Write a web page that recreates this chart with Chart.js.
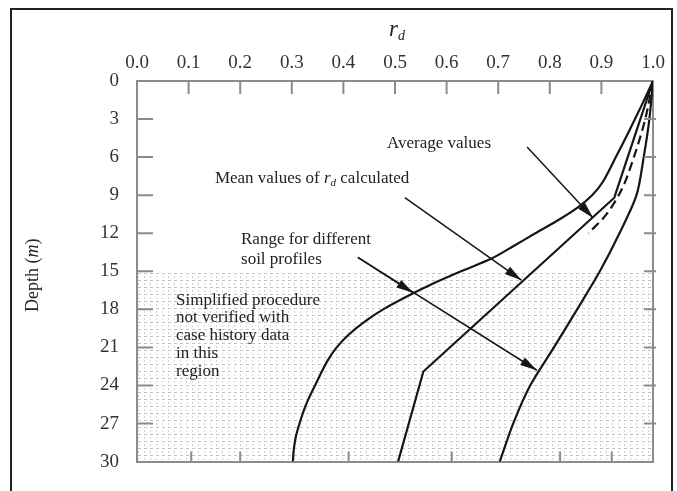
<!DOCTYPE html>
<html>
<head>
<meta charset="utf-8">
<script src="https://cdn.jsdelivr.net/npm/chart.js@4.4.0/dist/chart.umd.min.js"></script>
<style>
  html, body { margin: 0; padding: 0; background: #fff; }
</style>
</head>
<body>
<canvas id="myChart" width="677" height="491"></canvas>
<script>
// values: depth (m) down, r_d across
const rdTicks = [0, 0.1, 0.2, 0.3, 0.4, 0.5, 0.6, 0.7, 0.8, 0.9, 1.0];
const rdTickLabels = ['0.0', '0.1', '0.2', '0.3', '0.4', '0.5', '0.6', '0.7', '0.8', '0.9', '1.0'];
const depthTicks = [0, 3, 6, 9, 12, 15, 18, 21, 24, 27, 30];
const bottomTicks = [0.105, 0.2, 0.41, 0.61, 0.82, 0.92];

// range for different soil profiles, lower bound
const depthLower = [0, 2, 4, 6, 8, 9, 10, 11, 12, 13, 14, 15, 16, 17, 18, 19, 20, 21, 22, 23, 24, 25, 26, 27, 28, 29, 30];
const rdLower = [1.0, 0.977, 0.953, 0.928, 0.902, 0.882, 0.853, 0.815, 0.772, 0.73, 0.687, 0.628, 0.572, 0.522, 0.477, 0.44, 0.41, 0.387, 0.37, 0.357, 0.345, 0.333, 0.323, 0.315, 0.308, 0.304, 0.302];
// range for different soil profiles, upper bound
const depthUpper = [0, 3, 6, 9, 12, 15, 18, 21, 24, 27, 30];
const rdUpper = [1.0, 0.993, 0.982, 0.968, 0.935, 0.897, 0.853, 0.808, 0.762, 0.729, 0.703];
// mean values of r_d calculated
const depthMean = [0, 9.2, 22.9, 30];
const rdMean = [1.0, 0.925, 0.555, 0.506];
// average values (dashed)
const depthAvg = [0, 3, 6, 8.5, 10.5, 12];
const rdAvg = [1.0, 0.985, 0.963, 0.94, 0.91, 0.875];
// shaded region start depth
const shadeFrom = 15;

// arrows [x, depth] start -> end
const arrowAvg = [[0.756, 5.2], [0.884, 10.8]];
const arrowMean = [[0.519, 9.2], [0.745, 15.7]];
const arrowRangeA = [[0.428, 13.9], [0.535, 16.7]];
const arrowRangeC = [[0.428, 13.9], [0.775, 22.8]];

const pts = (xs, ys) => xs.map((v, i) => ({ x: v, y: ys[i] }));
const arrowPts = a => a.map(p => ({ x: p[0], y: p[1] }));

let ctx = document.getElementById('myChart').getContext('2d');

// stipple for the "not verified" region
const pc = document.createElement('canvas');
pc.width = 6; pc.height = 7;
const pctx = pc.getContext('2d');
pctx.fillStyle = 'rgba(120,120,120,0.45)';
pctx.fillRect(0, 0, 3, 1);
pctx.fillStyle = 'rgba(120,120,120,0.3)';
pctx.fillRect(0, 3, 1, 2);
const stipple = ctx.createPattern(pc, 'repeat');

const serif = "'Liberation Serif', 'DejaVu Serif', serif";
const ink = '#161616';
const axisGray = '#8c8c8c';

function curve(data, dash, tension) {
  return {
    data: data, borderColor: ink, borderWidth: 2.2, borderDash: dash || [],
    pointRadius: 0, tension: tension || 0, fill: false, showLine: true
  };
}
function arrow(a) {
  return {
    data: arrowPts(a), borderColor: ink, borderWidth: 1.5, pointRadius: 0,
    showLine: true, fill: false, arrow: true
  };
}

// inward tick marks on all four sides
const inTicks = {
  id: 'inTicks',
  afterDraw(chart) {
    const c = chart.ctx, a = chart.chartArea, s = chart.scales;
    c.save();
    c.strokeStyle = axisGray;
    c.lineWidth = 2;
    c.beginPath();
    rdTicks.slice(1, -1).forEach(v => {
      const px = s.x.getPixelForValue(v);
      c.moveTo(px, a.top); c.lineTo(px, a.top + 13);
    });
    bottomTicks.forEach(v => {
      const px = s.x2.getPixelForValue(v);
      c.moveTo(px, a.bottom); c.lineTo(px, a.bottom - 10);
    });
    depthTicks.slice(1, -1).forEach(v => {
      const py = s.y.getPixelForValue(v);
      c.moveTo(a.left, py); c.lineTo(a.left + 16, py);
      const py2 = s.y2.getPixelForValue(v);
      c.moveTo(a.right + 3, py2); c.lineTo(a.right - 9, py2);
    });
    c.stroke();
    c.restore();
  }
};

// arrowheads at the end of arrow datasets
const arrowHeads = {
  id: 'arrowHeads',
  afterDatasetsDraw(chart) {
    const c = chart.ctx;
    chart.data.datasets.forEach((ds, i) => {
      if (!ds.arrow) return;
      const el = chart.getDatasetMeta(i).data;
      const p0 = el[0], p1 = el[el.length - 1];
      const ang = Math.atan2(p1.y - p0.y, p1.x - p0.x);
      c.save();
      c.translate(p1.x, p1.y);
      c.rotate(ang);
      c.fillStyle = ink;
      c.beginPath();
      c.moveTo(0, 0);
      c.lineTo(-17, -4.5);
      c.lineTo(-17, 4.5);
      c.closePath();
      c.fill();
      c.restore();
    });
  }
};

// frame, titles and labels
const notes = [
  { text: 'Average values', x: 0.4845, y: 4.9 },
  { text: 'Range for different', x: 0.2016, y: 12.5 },
  { text: 'soil profiles', x: 0.2016, y: 14.1 },
  { text: 'Simplified procedure', x: 0.0756, y: 17.3 },
  { text: 'not verified with', x: 0.0756, y: 18.65 },
  { text: 'case history data', x: 0.0756, y: 20.1 },
  { text: 'in this', x: 0.0756, y: 21.5 },
  { text: 'region', x: 0.0756, y: 22.9 }
];
const textLayer = {
  id: 'textLayer',
  beforeDraw(chart) {
    const c = chart.ctx;
    c.save();
    c.strokeStyle = '#222';
    c.lineWidth = 2;
    c.strokeRect(11, 9, 661, 500);
    c.restore();
  },
  afterDraw(chart) {
    const c = chart.ctx, s = chart.scales, a = chart.chartArea;
    c.save();
    c.fillStyle = '#222';
    c.textBaseline = 'middle';
    c.font = '17px ' + serif;
    notes.forEach(n => {
      c.fillText(n.text, s.x.getPixelForValue(n.x), s.y.getPixelForValue(n.y));
    });
    // Mean values of r_d calculated
    let px = s.x.getPixelForValue(0.151), py = s.y.getPixelForValue(7.7);
    c.fillText('Mean values of ', px, py);
    px += c.measureText('Mean values of ').width;
    c.font = 'italic 17px ' + serif;
    c.fillText('r', px, py);
    px += c.measureText('r').width;
    c.font = 'italic 11px ' + serif;
    c.fillText('d', px, py + 4);
    px += c.measureText('d').width;
    c.font = '17px ' + serif;
    c.fillText(' calculated', px, py);

    // axis title r_d
    c.textBaseline = 'alphabetic';
    c.font = 'italic 23px ' + serif;
    const rw = c.measureText('r').width;
    px = s.x.getPixelForValue(0.5) - 6;
    c.fillText('r', px, 36);
    c.font = 'italic 14px ' + serif;
    c.fillText('d', px + rw, 40);

    // axis title Depth (m)
    c.translate(33, (a.top + a.bottom) / 2 + 4);
    c.rotate(-Math.PI / 2);
    c.textBaseline = 'middle';
    const parts = [['Depth (', ''], ['m', 'italic '], [')', '']];
    let tw = 0;
    parts.forEach(p => { c.font = p[1] + '18px ' + serif; tw += c.measureText(p[0]).width; });
    let tx = -tw / 2;
    parts.forEach(p => {
      c.font = p[1] + '18px ' + serif;
      c.fillText(p[0], tx, 0);
      tx += c.measureText(p[0]).width;
    });
    c.restore();
  }
};

const tickFont = { family: serif, size: 19 };

let myChart = new Chart(ctx, {
  type: 'scatter',
  data: {
    datasets: [
      curve(pts(rdLower, depthLower), [], 0.3),
      curve(pts(rdUpper, depthUpper), [], 0.3),
      curve(pts(rdMean, depthMean), [], 0),
      curve(pts(rdAvg, depthAvg), [9, 5], 0.3),
      arrow(arrowAvg),
      arrow(arrowMean),
      arrow(arrowRangeA),
      arrow(arrowRangeC),
      {
        data: [{ x: 0, y: shadeFrom }, { x: 1, y: shadeFrom }],
        showLine: true, borderWidth: 0, pointRadius: 0,
        fill: { value: 30 }, backgroundColor: stipple
      }
    ]
  },
  options: {
    responsive: false,
    animation: false,
    layout: { padding: { left: 0, top: 0, right: 24, bottom: 12 } },
    plugins: { legend: { display: false }, tooltip: { enabled: false } },
    scales: {
      x: {
        type: 'linear', position: 'top', min: 0, max: 1,
        afterFit: sc => { sc.height = 81; },
        afterBuildTicks: sc => { sc.ticks = rdTicks.map(v => ({ value: v })); },
        ticks: { callback: (v, i) => rdTickLabels[i], font: tickFont, color: '#333', padding: 7, maxRotation: 0, autoSkip: false },
        grid: { drawOnChartArea: false, drawTicks: false },
        border: { color: axisGray, width: 2 }
      },
      x2: {
        type: 'linear', position: 'bottom', min: 0, max: 1,
        afterFit: sc => { sc.height = 0; },
        ticks: { display: false },
        grid: { drawOnChartArea: false, drawTicks: false },
        border: { color: axisGray, width: 2 }
      },
      y: {
        type: 'linear', position: 'left', min: 0, max: 30, reverse: true,
        afterFit: sc => { sc.width = 137; },
        afterBuildTicks: sc => { sc.ticks = depthTicks.map(v => ({ value: v })); },
        ticks: { font: tickFont, color: '#333', padding: 18, autoSkip: false },
        grid: { drawOnChartArea: false, drawTicks: false },
        border: { color: axisGray, width: 2 }
      },
      y2: {
        type: 'linear', position: 'right', min: 0, max: 30, reverse: true,
        afterFit: sc => { sc.width = 0; },
        ticks: { display: false },
        grid: { drawOnChartArea: false, drawTicks: false },
        border: { color: axisGray, width: 2 }
      }
    }
  },
  plugins: [inTicks, arrowHeads, textLayer]
});
</script>
</body>
</html>
